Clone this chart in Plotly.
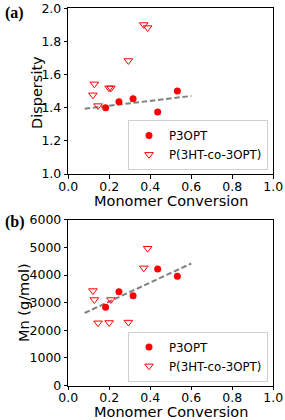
import numpy as np
import plotly.graph_objects as go

# P3OPT data
p3opt_conv = [0.182, 0.247, 0.316, 0.436, 0.532]
p3opt_disp = [1.400, 1.436, 1.454, 1.374, 1.501]
p3opt_mn = [2833, 3397, 3253, 4217, 3954]

# P(3HT-co-3OPT) data
co_conv = [0.120, 0.127, 0.145, 0.199, 0.208, 0.293, 0.368, 0.387]
co_disp = [1.477, 1.543, 1.412, 1.519, 1.519, 1.684, 1.901, 1.883]
co_mn = [3433, 3108, 2266, 2277, 3108, 2291, 4254, 4966]

# trend line range
fit_range = [0.08, 0.60]

x_ticks = [0.0, 0.2, 0.4, 0.6, 0.8, 1.0]
disp_ticks = [1.0, 1.2, 1.4, 1.6, 1.8, 2.0]
mn_ticks = [0, 1000, 2000, 3000, 4000, 5000, 6000]

W, H = 285, 420
FONT = "DejaVu Sans"
RED = "#ff0000"
DASH = "5.5px,2.7px"

def py(pix):
    return 1 - pix / H

def px(pix):
    return pix / W

fig = go.Figure()

# fits
c1 = np.polyfit(p3opt_conv, p3opt_disp, 1)
c2 = np.polyfit(p3opt_conv, p3opt_mn, 1)
fx = np.array(fit_range)

fig.add_trace(go.Scatter(x=fx, y=np.polyval(c1, fx), mode="lines",
                         line=dict(color="#808080", width=2, dash=DASH),
                         showlegend=False, xaxis="x", yaxis="y"))
fig.add_trace(go.Scatter(x=p3opt_conv, y=p3opt_disp, mode="markers", name="P3OPT",
                         marker=dict(symbol="circle", size=7, color=RED),
                         xaxis="x", yaxis="y", legend="legend"))
fig.add_trace(go.Scatter(x=co_conv, y=co_disp, mode="markers", name="P(3HT-co-3OPT)",
                         marker=dict(symbol="triangle-down-open", size=7.5, color=RED,
                                     line=dict(width=1)),
                         xaxis="x", yaxis="y", legend="legend"))

fig.add_trace(go.Scatter(x=fx, y=np.polyval(c2, fx), mode="lines",
                         line=dict(color="#808080", width=2, dash=DASH),
                         showlegend=False, xaxis="x2", yaxis="y2"))
fig.add_trace(go.Scatter(x=p3opt_conv, y=p3opt_mn, mode="markers", name="P3OPT",
                         marker=dict(symbol="circle", size=7, color=RED),
                         xaxis="x2", yaxis="y2", legend="legend2"))
fig.add_trace(go.Scatter(x=co_conv, y=co_mn, mode="markers", name="P(3HT-co-3OPT)",
                         marker=dict(symbol="triangle-down-open", size=7.5, color=RED,
                                     line=dict(width=1)),
                         xaxis="x2", yaxis="y2", legend="legend2"))

xdom = [px(68.3), px(273.3)]
axis_common = dict(showgrid=False, zeroline=False, showline=True, linecolor="black",
                   linewidth=1, mirror=True, ticks="outside", ticklen=3.5,
                   tickcolor="black", automargin=False,
                   tickfont=dict(size=12.5, color="black", family=FONT))

label_font = dict(family=FONT, size=14.5, color="black")

def note(text, x, y, angle=0, font=label_font, xanchor="center"):
    return dict(text=text, x=x, y=y, xref="paper", yref="paper",
                xanchor=xanchor, yanchor="middle", showarrow=False,
                textangle=angle, font=font)

legend_common = dict(xanchor="right", yanchor="bottom",
                     bordercolor="#d0d0d0", borderwidth=1, bgcolor="white",
                     font=dict(size=11.8, family=FONT), itemwidth=30,
                     tracegroupgap=0)

fig.update_layout(
    width=W, height=H, margin=dict(l=0, r=0, t=0, b=0, autoexpand=False),
    paper_bgcolor="white", plot_bgcolor="white",
    font=dict(family=FONT, color="black"),
    xaxis=dict(domain=xdom, range=[0, 1], tickvals=x_ticks, tickformat=".1f",
               anchor="y", ticklabelstandoff=-3, **axis_common),
    yaxis=dict(domain=[py(174), py(8.3)], range=[1.0, 2.0], tickvals=disp_ticks,
               tickformat=".1f", anchor="x", **axis_common),
    xaxis2=dict(domain=xdom, range=[0, 1], tickvals=x_ticks, tickformat=".1f",
                anchor="y2", ticklabelstandoff=-3, **axis_common),
    yaxis2=dict(domain=[py(385.5), py(219.8)], range=[0, 6000], tickvals=mn_ticks,
                anchor="x2", **axis_common),
    legend=dict(x=px(268), y=py(170), **legend_common),
    legend2=dict(x=px(268), y=py(381.5), **legend_common),
    annotations=[
        note("<b>(a)</b>", px(3), py(12.7), xanchor="left",
             font=dict(family="Liberation Serif", size=16, color="black")),
        note("<b>(b)</b>", px(3), py(221.7), xanchor="left",
             font=dict(family="Liberation Serif", size=16, color="black")),
        note("Monomer Conversion", px(170.8), py(200.5)),
        note("Monomer Conversion", px(170.8), py(411.5)),
        note("Dispersity", px(36.5), py(92.5), angle=-90),
        note("Mn (g/mol)", px(23.5), py(302.5), angle=-90),
    ],
)

fig.write_html("out.html", config={"displayModeBar": False},
               post_script="document.body.style.margin='0';")
